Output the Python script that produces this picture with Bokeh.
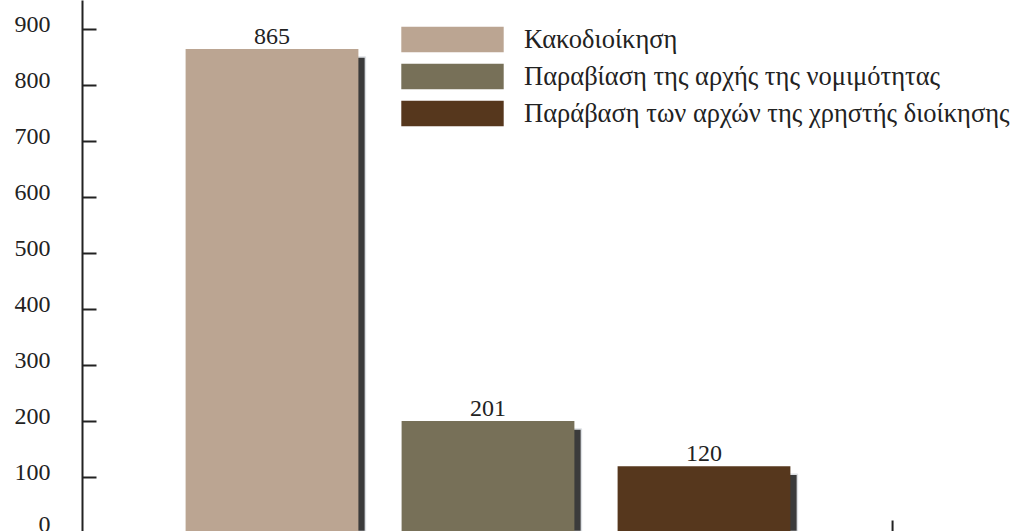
from bokeh.plotting import figure
from bokeh.models import (ColumnDataSource, Range1d, FixedTicker, Legend, LegendItem,
                          LinearAxis)
from bokeh.core.properties import value
from bokeh.embed import file_html
from bokeh.resources import INLINE

# ---- data ----
categories = ["Κακοδιοίκηση",
              "Παραβίαση της αρχής της νομιμότητας",
              "Παράβαση των αρχών της χρηστής διοίκησης"]
counts = [865, 201, 120]
bar_colors = ["#BBA592", "#777058", "#56371D"]
y_ticks = [0, 100, 200, 300, 400, 500, 600, 700, 800, 900]

FONT = "Liberation Serif"
INK = "#222222"
W, H = 1013, 531
px_y = 0.56      # pixels per unit on y
px_x = 216.0     # pixels per category step

xs = [i + 1 for i in range(len(counts))]
src = ColumnDataSource(dict(
    x=xs,
    top=counts,
    color=bar_colors,
    label=[str(c) for c in counts],
    sx=[x + 7 / px_x for x in xs],
    stop=[c - 8 / px_y for c in counts],
))

y0 = 2 / px_y
y1 = 533 / px_y
x0 = 1 - 189.5 / px_x
x1 = x0 + (W - 82) / px_x
p = figure(width=W, height=H, output_backend="svg", toolbar_location=None,
           x_range=Range1d(x0, x1), y_range=Range1d(y0, y1),
           min_border_left=82, min_border_right=0, min_border_top=0, min_border_bottom=0,
           x_axis_location=None, y_axis_location=None)
p.outline_line_color = None
p.xgrid.visible = False
p.ygrid.visible = False
p.background_fill_color = "white"

# shadows
p.vbar(x="sx", top="stop", bottom=y0 - 50, width=0.8, source=src,
       fill_color="#3b3b3b", line_color="#dde0e4", line_width=1.5)
# bars
bars = p.vbar(x="x", top="top", bottom=y0 - 50, width=0.8, source=src,
              fill_color="color", line_color=None)

# value labels
p.text(x="x", y="top", text="label", source=src, text_align="center",
       text_baseline="bottom", y_offset=-5, text_font=value(FONT),
       text_font_size="24px", text_color=INK)

# inward tick marks of the y axis
p.segment(x0=[x0] * len(y_ticks), x1=[x0 + 14 / px_x] * len(y_ticks),
          y0=y_ticks, y1=y_ticks, line_color=INK, line_width=2)

# decorative right tick at the base line
p.segment(x0=[3.873], x1=[3.873], y0=[y0], y1=[y0 + 11 / px_y],
          line_color=INK, line_width=2)

# y axis line + labels (labels sit slightly above their ticks)
lab_shift = 5.5 / px_y
p.extra_y_ranges = {"lab": Range1d(y0 - lab_shift, y1 - lab_shift)}
ax = LinearAxis(y_range_name="lab", ticker=FixedTicker(ticks=y_ticks),
                axis_line_color=INK, axis_line_width=2,
                major_tick_line_color=None, minor_tick_line_color=None,
                major_tick_in=0, major_tick_out=0,
                major_label_standoff=32, major_label_text_font=FONT,
                major_label_text_font_size="24px", major_label_text_color=INK)
p.add_layout(ax, "left")

# legend
gw, gh = 128, 32
sp = 5
items = [LegendItem(label=categories[i], renderers=[bars], index=i) for i in range(3)]
leg_h = 3 * gh + 2 * sp
legend = Legend(items=items,
                location=(int(401 - 0.1 * gw - 82), int(H - (26 - 0.1 * gh + leg_h))),
                orientation="vertical",
                glyph_width=gw, glyph_height=gh, spacing=sp, label_standoff=8,
                padding=0, margin=0, border_line_color=None, background_fill_alpha=0,
                label_text_font=FONT, label_text_font_size="26.5px",
                label_text_color=INK, label_height=gh)
p.add_layout(legend)

open("out.html", "w").write(file_html(p, INLINE))
